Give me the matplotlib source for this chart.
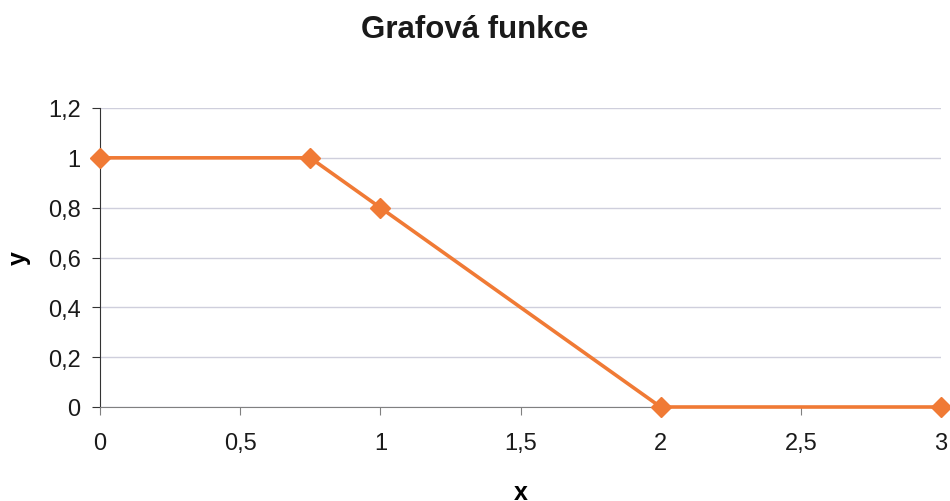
import matplotlib
matplotlib.use("Agg")
import matplotlib.pyplot as plt
from matplotlib.ticker import FuncFormatter

plt.rcParams['font.family'] = ['Liberation Sans', 'DejaVu Sans']
plt.rcParams['text.color'] = '#1a1a1a'
plt.rcParams['xtick.labelcolor'] = '#1a1a1a'
plt.rcParams['ytick.labelcolor'] = '#1a1a1a'

x_vals = [0, 0.75, 1, 2, 3]
y_vals = [1, 1, 0.8, 0, 0]
x_ticks = [0, 0.5, 1, 1.5, 2, 2.5, 3]
y_ticks = [0, 0.2, 0.4, 0.6, 0.8, 1, 1.2]

fig = plt.figure(figsize=(9.5, 5.02), dpi=100)
W, H = 950, 502
ax = fig.add_axes([100/W, 1 - 408/H, 841/W, (408 - 109)/H])

ax.plot(x_vals, y_vals, color='#F07A35', lw=2.6, marker='D', ms=10,
        markeredgecolor='#F07A35', clip_on=False, zorder=3)

ax.set_xlim(0, 3)
ax.set_ylim(0, 1.2)
ax.set_xticks(x_ticks)
ax.set_yticks(y_ticks)

def comma(v, pos):
    return f"{v:g}".replace('.', ',')

ax.xaxis.set_major_formatter(FuncFormatter(comma))
ax.yaxis.set_major_formatter(FuncFormatter(comma))

ax.grid(axis='y', color='#CFCFDC', lw=1)
ax.set_axisbelow(True)
for s in ('top', 'right'):
    ax.spines[s].set_visible(False)
ax.spines['left'].set_color('#333333')
ax.spines['bottom'].set_color('#808080')
ax.tick_params(axis='y', direction='out', length=6, color='#333333', labelsize=17, pad=8)
ax.tick_params(axis='x', direction='out', length=6, color='#808080', labelsize=17, pad=12)

ax.set_xlabel('x', fontsize=18, fontweight='bold')
ax.set_ylabel('y', fontsize=18, fontweight='bold')
ax.xaxis.set_label_coords(0.5, (408 - 493) / 299)
ax.xaxis.label.set_va('center')
ax.yaxis.set_label_coords((19 - 100) / 841, 0.5)
ax.yaxis.label.set_va('center')

fig.text(0.5, 1 - 30/H, 'Grafová funkce', ha='center', va='center',
         fontsize=22.5, fontweight='bold')

fig.savefig('out.png', dpi=100)
